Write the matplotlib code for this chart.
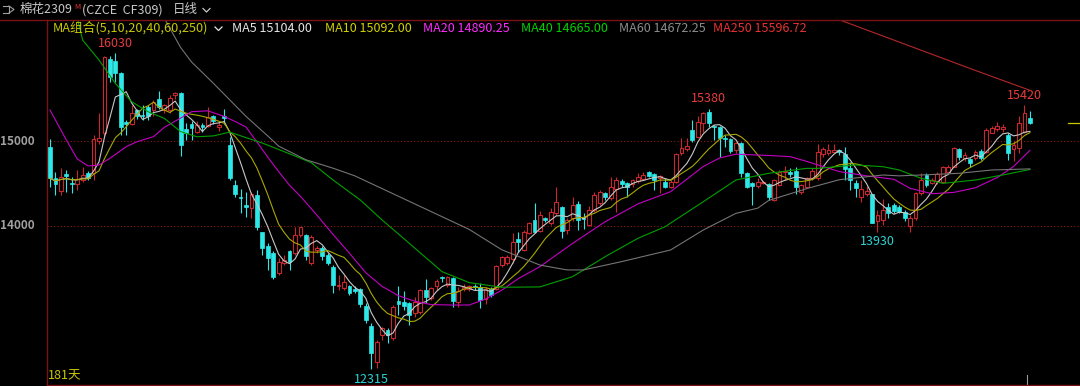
import numpy as np
import pandas as pd
import matplotlib.pyplot as plt
from matplotlib.patches import Rectangle
from matplotlib.lines import Line2D

plt.rcParams['font.family'] = ['Noto Sans CJK SC', 'DejaVu Sans']

# daily bars, CF309
opens = [14933, 14560, 14416, 14610, 14510, 14494, 14540, 14620, 14620, 15000,
         15090, 15970, 15940, 15800, 15220, 15200, 15360, 15310, 15400, 15360,
         15490, 15360, 15360, 15540, 15570, 15140, 15200, 15110, 15190, 15175,
         15290, 15170, 15290, 14950, 14480, 14345, 14247, 14208, 14365, 13926,
         13760, 13680, 13444, 13565, 13700, 13680, 13890, 13890, 13560, 13720,
         13740, 13660, 13520, 13295, 13270, 13290, 13255, 13255, 13060, 12825,
         12405, 12720, 12780, 12680, 13120, 13100, 13090, 12975, 12990, 13250,
         13150, 13295, 13405, 13310, 13385, 13100, 13255, 13255, 13295, 13280,
         13140, 13255, 13255, 13542, 13560, 13610, 13845, 13720, 13915, 14070,
         13945, 14090, 14032, 14149, 14220, 13953, 14090, 14259, 14090, 14012,
         14190, 14267, 14390, 14326, 14432, 14534, 14510, 14494, 14534, 14550,
         14640, 14612, 14561, 14522, 14463, 14522, 14855, 14902, 15129, 15051,
         15208, 15345, 15176, 15169, 15031, 15020, 14894, 14973, 14620, 14510,
         14471, 14502, 14494, 14306, 14482, 14630, 14640, 14651, 14404, 14463,
         14561, 14565, 14847, 14855, 14875, 14894, 14847, 14678, 14510, 14345,
         14380, 14376, 14063, 14071, 14228, 14247, 14228, 14169, 13998, 14090,
         14385, 14600, 14510, 14530, 14522, 14640, 14698, 14902, 14796, 14784,
         14796, 14886, 14875, 15098, 15137, 15137, 15071, 14902, 14914, 15110,
         15267]
highs = [15020, 14640, 14680, 14660, 14580, 14660, 14700, 14650, 15070, 15330,
         16000, 16000, 16030, 15810, 15250, 15420, 15380, 15420, 15420, 15480,
         15590, 15440, 15540, 15580, 15580, 15210, 15230, 15230, 15210, 15400,
         15305, 15230, 15380, 15050, 14540, 14440, 14404, 14404, 14420, 13930,
         13800, 13700, 13620, 13660, 13720, 13990, 13990, 13910, 13895, 13760,
         13760, 13680, 13540, 13420, 13420, 13310, 13290, 13270, 13090, 12856,
         12660, 12815, 12800, 13070, 13290, 13230, 13110, 13170, 13260, 13375,
         13280, 13380, 13410, 13410, 13405, 13280, 13320, 13310, 13315, 13325,
         13280, 13280, 13540, 13650, 13660, 13920, 13930, 13950, 14050, 14270,
         14180, 14110, 14208, 14463, 14230, 14090, 14345, 14300, 14150, 14230,
         14405, 14420, 14405, 14580, 14580, 14550, 14522, 14550, 14628, 14640,
         14651, 14620, 14600, 14561, 14541, 14855, 15031, 15031, 15247, 15294,
         15345, 15380, 15188, 15176, 15071, 15031, 14992, 14992, 14640, 14522,
         14561, 14530, 14510, 14549, 14660, 14706, 14680, 14700, 14500, 14580,
         14680, 14960, 14930, 14960, 14960, 14910, 14925, 14757, 14541, 14541,
         14470, 14380, 14188, 14320, 14267, 14270, 14250, 14188, 14130, 14400,
         14620, 14628, 14560, 14640, 14706, 14720, 14933, 14914, 14870, 14796,
         14894, 14902, 15149, 15180, 15220, 15200, 15090, 15000, 15294, 15420,
         15357]
lows = [14463, 14370, 14365, 14400, 14385, 14420, 14520, 14540, 14540, 14960,
        15050, 15700, 15700, 15070, 15070, 15190, 15260, 15250, 15250, 15300,
        15380, 15330, 15330, 15500, 14820, 15010, 15010, 15090, 15110, 15170,
        15200, 15120, 15200, 14540, 14340, 14150, 14110, 14090, 13950, 13660,
        13480, 13380, 13420, 13540, 13480, 13660, 13870, 13600, 13540, 13680,
        13600, 13540, 13210, 13250, 13250, 13190, 13210, 13050, 12856, 12315,
        12330, 12660, 12620, 12660, 12950, 13010, 12840, 12930, 12970, 13090,
        13130, 13250, 13345, 13280, 13045, 13050, 13230, 13230, 13250, 13030,
        13080, 13170, 13250, 13520, 13540, 13560, 13690, 13700, 13905, 13915,
        13930, 14050, 14012, 14130, 13855, 13900, 14060, 13950, 13960, 14000,
        14170, 14250, 14306, 14306, 14170, 14463, 14345, 14463, 14502, 14541,
        14573, 14424, 14385, 14443, 14443, 14502, 14835, 14886, 14992, 15031,
        15110, 15169, 15012, 14816, 14933, 14855, 14855, 14580, 14443, 14247,
        14443, 14490, 14306, 14290, 14471, 14541, 14580, 14380, 14380, 14443,
        14540, 14540, 14816, 14840, 14860, 14840, 14541, 14424, 14345, 14286,
        14350, 14032, 13930, 14012, 14090, 14150, 14150, 14060, 13934, 14071,
        14365, 14463, 14500, 14500, 14502, 14620, 14690, 14780, 14760, 14690,
        14780, 14777, 14855, 15090, 15120, 15110, 14780, 14760, 14855, 15090,
        15200]
closes = [14561, 14500, 14580, 14590, 14490, 14550, 14600, 14570, 15020, 15030,
          15990, 15750, 15800, 15160, 15200, 15330, 15290, 15290, 15300, 15460,
          15400, 15420, 15510, 15560, 14950, 15100, 15150, 15190, 15170, 15285,
          15230, 15190, 15270, 14560, 14380, 14335, 14228, 14377, 13992, 13738,
          13620, 13404, 13580, 13600, 13580, 13890, 13990, 13650, 13870, 13740,
          13650, 13570, 13300, 13305, 13345, 13210, 13230, 13080, 12890, 12500,
          12640, 12795, 12720, 13045, 13080, 13060, 12955, 13110, 13250, 13170,
          13265, 13355, 13390, 13400, 13120, 13240, 13280, 13290, 13280, 13130,
          13255, 13190, 13530, 13630, 13640, 13816, 13810, 13930, 14040, 13934,
          14130, 14075, 14169, 14287, 13945, 14071, 14247, 14071, 14080, 14188,
          14365, 14404, 14345, 14463, 14541, 14494, 14463, 14541, 14580, 14600,
          14590, 14541, 14588, 14463, 14522, 14847, 14914, 14941, 15012, 15227,
          15325, 15216, 15161, 15031, 15020, 14886, 14973, 14620, 14463, 14471,
          14522, 14518, 14345, 14541, 14639, 14645, 14610, 14455, 14482, 14565,
          14651, 14874, 14902, 14900, 14894, 14875, 14667, 14541, 14443, 14432,
          14410, 14040, 14130, 14188, 14149, 14181, 14169, 14090, 14090, 14385,
          14541, 14483, 14541, 14610, 14698, 14700, 14914, 14808, 14835, 14745,
          14875, 14796, 15129, 15149, 15176, 15169, 14855, 14953, 15216, 15325,
          15216]

# longer averages at sample days
ma20_days = [0, 3, 5, 7, 9, 11, 14, 16, 19, 21, 24, 26, 29, 32, 34, 36, 38, 40,
             42, 44, 46, 49, 52, 55, 58, 61, 64, 67, 70, 74, 77, 80, 83, 86, 90,
             96, 102, 108, 114, 120, 123, 126, 132, 136, 139, 142, 145, 150, 155,
             158, 162, 166, 170, 174, 177, 180]
ma20_vals = [15365, 15012, 14790, 14706, 14718, 14796, 14933, 14992, 15051, 15161,
             15270, 15345, 15355, 15290, 15230, 15165, 14990, 14810, 14640, 14480,
             14350, 14130, 13900, 13680, 13450, 13290, 13180, 13115, 13075, 13070,
             13070, 13140, 13245, 13380, 13522, 13796, 14051, 14260, 14404, 14700,
             14800, 14845, 14830, 14816, 14760, 14700, 14640, 14590, 14550, 14443,
             14380, 14395, 14450, 14570, 14700, 14890]
ma40_days = [5, 6, 9, 12, 15, 18, 21, 24, 27, 30, 33, 36, 39, 44, 48, 52, 57, 61,
             66, 72, 77, 83, 90, 96, 102, 108, 113, 120, 126, 132, 139, 141, 148,
             153, 156, 160, 164, 170, 175, 180]
ma40_vals = [16450, 16188, 15953, 15678, 15463, 15345, 15267, 15110, 15050, 15060,
             15105, 15040, 14976, 14850, 14745, 14541, 14306, 14071, 13796, 13463,
             13334, 13279, 13283, 13404, 13640, 13855, 13992, 14286, 14541, 14620,
             14678, 14678, 14718, 14698, 14659, 14561, 14502, 14541, 14600, 14665]
ma60_days = [20, 22, 24, 26, 30, 34, 36, 40, 42, 47, 52, 56, 59, 65, 71, 77, 83,
             90, 95, 98, 105, 114, 120, 126, 130, 132, 136, 139, 145, 153, 156,
             160, 167, 173, 180]
ma60_vals = [16560, 16330, 16100, 15930, 15680, 15420, 15290, 15060, 14940, 14780,
             14680, 14590, 14500, 14320, 14140, 13960, 13720, 13540, 13483, 13483,
             13581, 13718, 13953, 14149, 14210, 14300, 14380, 14440, 14545, 14600,
             14590, 14600, 14620, 14659, 14672]
ma250_days = [144, 155, 170, 180]
ma250_vals = [16450, 16188, 15830, 15597]

hi_marks = [12, 121, 179]
lo_marks = [59, 152]

legend = [('MA5 15104.00', '#e6e6e6', 232), ('MA10 15092.00', '#d2d200', 325),
          ('MA20 14890.25', '#ff2cff', 423), ('MA40 14665.00', '#00d200', 521),
          ('MA60 14672.25', '#8c8c8c', 619), ('MA250 15596.72', '#e83232', 713)]

W, H = 1080, 386
UP, DOWN = '#c8282d', '#2ee8e8'

fig = plt.figure(figsize=(W / 100, H / 100), dpi=100, facecolor='black')
ax = fig.add_axes([47 / W, 1 / H, 1033 / W, 365 / H])
ax.set_facecolor('black')


def px(x, y):
    return x / W, 1 - y / H


n = len(closes)
days = np.arange(n)
bw = 0.7
for i in days:
    o, h, l, c = opens[i], highs[i], lows[i], closes[i]
    lo_b, hi_b = min(o, c), max(o, c)
    if c > o:
        ax.vlines(i, l, lo_b, color=UP, lw=0.8, zorder=3)
        ax.vlines(i, hi_b, h, color=UP, lw=0.8, zorder=3)
        ax.add_patch(Rectangle((i - bw / 2, lo_b), bw, hi_b - lo_b, facecolor='black',
                               edgecolor=UP, lw=0.8, zorder=4))
    else:
        ax.vlines(i, l, h, color=DOWN, lw=0.8, zorder=3)
        ax.add_patch(Rectangle((i - bw / 2, lo_b), bw, max(hi_b - lo_b, 8), facecolor=DOWN,
                               edgecolor=DOWN, lw=0.5, zorder=4))

s = pd.Series(closes, dtype=float)
ma5 = s.rolling(5, min_periods=1).mean()
ma10 = s.rolling(10, min_periods=1).mean()

ax.plot(days, ma5, color='#c8c8c8', lw=0.8, zorder=5)
ax.plot(days, ma10, color='#a8a800', lw=0.8, zorder=5)
ax.plot(ma20_days, ma20_vals, color='#c400c4', lw=0.8, zorder=5)
ax.plot(ma40_days, ma40_vals, color='#00a000', lw=0.8, zorder=5)
ax.plot(ma60_days, ma60_vals, color='#747474', lw=0.8, zorder=5)
ax.plot(ma250_days, ma250_vals, color='#b42828', lw=0.8, zorder=5)

for lvl in (15000, 14000):
    ax.axhline(lvl, color='#8b1a1a', lw=0.8, ls=(0, (1, 2)), zorder=1)

for i in hi_marks:
    ax.annotate(f'{highs[i]}', xy=(i, highs[i]), xytext=(0, 2.5), textcoords='offset points',
                ha='center', va='bottom', color='#e83c3c', fontsize=9)
for i in lo_marks:
    ax.annotate(f'{lows[i]}', xy=(i, lows[i]), xytext=(0, -2.5), textcoords='offset points',
                ha='center', va='top', color='#2ad4d4', fontsize=9)

# last price tick at the right edge
ax.plot([187, 189.2], [closes[-1], closes[-1]], color='#c8c800', lw=0.9, clip_on=False)
ax.axvline(179.5, ymin=0, ymax=10 / 365, color='#9a9a9a', lw=0.8)

ax.set_xlim(-0.55, 189.2)
ax.set_ylim(12129, 16424)
ax.set_xticks([])
ax.set_yticks([])
for side in ('top', 'right'):
    ax.spines[side].set_visible(False)
for side in ('left', 'bottom'):
    ax.spines[side].set_color('#7a1414')
    ax.spines[side].set_linewidth(1.0)

# y labels
for lvl in (15000, 14000):
    ax.text(-0.012, lvl, f'{lvl}', transform=ax.get_yaxis_transform(), ha='right', va='center',
            color='#a0a0a0', fontsize=8.5, fontweight='bold')

# header row
fig.add_artist(Line2D([0, 1], [1 - 20 / H, 1 - 20 / H], color='#7a1414', lw=1.0))
fig.text(*px(20, 10), '棉花2309', color='#c8c8c8', fontsize=9, va='center')
fig.text(*px(74, 7), 'M', color='#e83232', fontsize=5.5, va='center')
fig.text(*px(82, 10), '(CZCE  CF309)', color='#c8c8c8', fontsize=9, va='center')
fig.text(*px(173, 10), '日线', color='#c8c8c8', fontsize=9, va='center')
fig.add_artist(Line2D([203 / W, 206.5 / W, 210 / W], [1 - 8.5 / H, 1 - 12 / H, 1 - 8.5 / H],
                      color='#c8c8c8', lw=0.9))
fig.add_artist(Line2D([3 / W, 9 / W, 9 / W, 3 / W], [1 - 6 / H, 1 - 6 / H, 1 - 13 / H, 1 - 13 / H],
                      color='#a0a0a0', lw=0.8))
fig.add_artist(Line2D([9 / W, 14 / W, 9 / W], [1 - 6 / H, 1 - 9.5 / H, 1 - 13 / H],
                      color='#a0a0a0', lw=0.8))

# legend row
fig.text(*px(53, 28), 'MA组合(5,10,20,40,60,250)', color='#c8c800', fontsize=9.2, va='center')
fig.add_artist(Line2D([215 / W, 218.5 / W, 222 / W], [1 - 27 / H, 1 - 30.5 / H, 1 - 27 / H],
                      color='#e6e6e6', lw=0.9))
for txt, col, x in legend:
    fig.text(*px(x, 28), txt, color=col, fontsize=9, va='center')

fig.text(*px(48, 376), '181天', color='#c8c800', fontsize=9, va='center')

fig.savefig('out.png', dpi=100, facecolor='black')
